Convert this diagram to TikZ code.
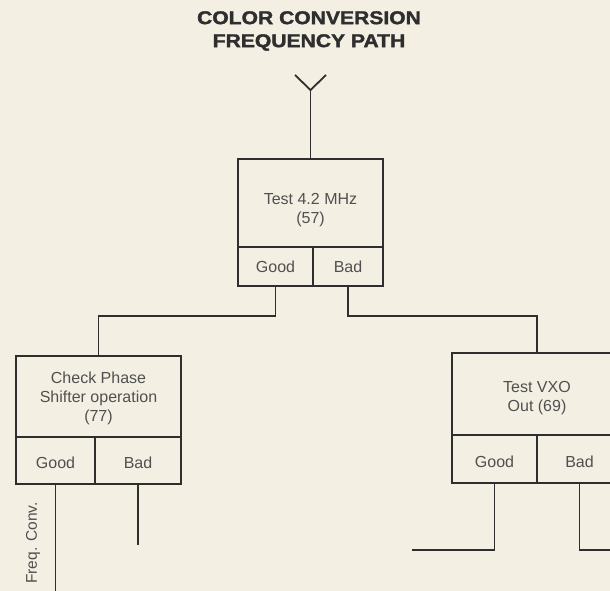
\documentclass[tikz,border=0pt]{standalone}
\usepackage{fontspec}
\setmainfont{Liberation Sans}
\newfontfamily\heavyfont[FakeBold=1.6]{Liberation Sans Bold}
\usepackage{graphicx}
\definecolor{paper}{HTML}{F4EFE3}
\definecolor{ink}{HTML}{2E2E2E}
\definecolor{txt}{HTML}{505050}
\begin{document}
\begin{tikzpicture}[x=1pt,y=-1pt,
  cell/.style={draw=ink,line width=1.8pt,rectangle,inner sep=0pt},
  lbl/.style={text=txt,font=\fontsize{16}{19}\selectfont,align=center,inner sep=0pt},
  title/.style={text=ink,font=\fontsize{18.5}{23}\selectfont\heavyfont,align=center,inner sep=0pt},
  wire/.style={draw=ink,line width=1.8pt}]
\fill[paper] (0,0) rectangle (610,591);
\useasboundingbox (0,0) rectangle (610,591);
\clip (0,0) rectangle (610,591);
% title
\node[title] (ttl) at (309,31) {\scalebox{1.14}[1]{COLOR CONVERSION}\\\scalebox{1.14}[1]{FREQUENCY PATH}};
% top box
\node[cell,minimum width=145pt,minimum height=88pt] (T) at (310.5,203) {};
\node[cell,minimum width=75pt,minimum height=39pt] (TG) at (275.5,266.5) {};
\node[cell,minimum width=70pt,minimum height=39pt] (TB) at (348,266.5) {};
\node[lbl] (Tt) at (310.5,210) {Test 4.2 MHz\\(57)};
\node[lbl] (TGt) at (TG) {Good};
\node[lbl] (TBt) at (TB) {Bad};
% left box
\node[cell,minimum width=165pt,minimum height=81pt] (L) at (98.5,396.5) {};
\node[cell,minimum width=79pt,minimum height=47pt] (LG) at (55.5,460.5) {};
\node[cell,minimum width=86pt,minimum height=47pt] (LB) at (138,460.5) {};
\node[lbl] (Lt) at (98.5,398) {Check Phase\\Shifter operation\\(77)};
\node[lbl] (LGt) at (55.5,463) {Good};
\node[lbl] (LBt) at (138,463) {Bad};
% right box
\node[cell,minimum width=170pt,minimum height=82pt] (R) at (537,394) {};
\node[cell,minimum width=85pt,minimum height=48pt] (RG) at (494.5,459) {};
\node[cell,minimum width=85pt,minimum height=48pt] (RB) at (579.5,459) {};
\node[lbl] (Rt) at (537,398) {Test VXO\\Out (69)};
\node[lbl] (RGt) at (494.5,462) {Good};
\node[lbl] (RBt) at (579.5,462) {Bad};
% antenna
\coordinate (ant) at (310.5,90);
\coordinate (armL) at (295,75);
\coordinate (armR) at (326,75);
\draw[wire] (armL) -- (ant) -- (armR);
\draw[wire] (ant) -- (T.north);
% connectors
\draw[wire] (TG.south) -- ++(0,29) -| (L.north);
\draw[wire] (TB.south) -- ++(0,29) -| (R.north);
\coordinate (lgEnd) at (55.5,600);
\draw[wire] (LG.south) -- (lgEnd);
\coordinate (lbEnd) at (138,545);
\draw[wire] (LB.south) -- (lbEnd);
\coordinate (rgEnd) at (412,550);
\draw[wire] (RG.south) |- (rgEnd);
\coordinate (rbEnd) at (620,550);
\draw[wire] (RB.south) |- (rbEnd);
\node[lbl,rotate=90,font=\fontsize{15.5}{18}\selectfont] (fc) at (33,543) {Freq. Conv.};
\end{tikzpicture}
\end{document}
